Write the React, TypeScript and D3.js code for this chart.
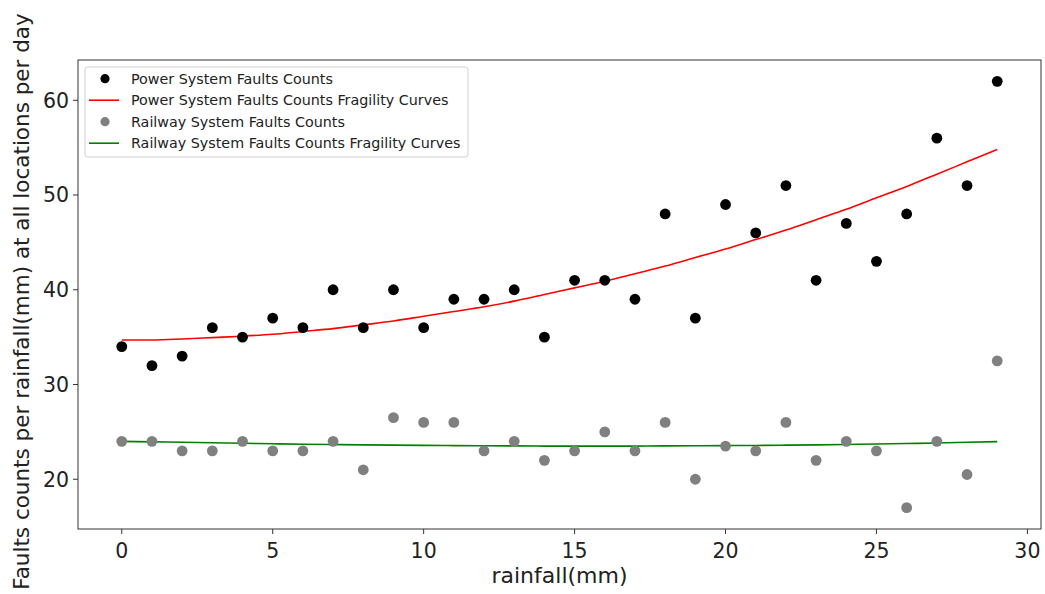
import * as d3 from 'd3';
import React from 'react';

// rainfall (mm) along the x axis
const rainfall = [0, 1, 2, 3, 4, 5, 6, 7, 8, 9, 10, 11, 12, 13, 14, 15, 16, 17, 18, 19, 20, 21, 22, 23, 24, 25, 26, 27, 28, 29];

// observed fault counts
const powerCounts = [34, 32, 33, 36, 35, 37, 36, 40, 36, 40, 36, 39, 39, 40, 35, 41, 41, 39, 48, 37, 49, 46, 51, 41, 47, 43, 48, 56, 51, 62];
const railwayCounts = [24, 24, 23, 23, 24, 23, 23, 24, 21, 26.5, 26, 26, 23, 24, 22, 23, 25, 23, 26, 20, 23.5, 23, 26, 22, 24, 23, 17, 24, 20.5, 32.5];

// fitted fragility curves
const powerCurve = [34.7, 34.7, 34.8, 34.95, 35.1, 35.3, 35.6, 35.9, 36.3, 36.7, 37.2, 37.7, 38.2, 38.8, 39.5, 40.2, 40.9, 41.7, 42.5, 43.4, 44.3, 45.3, 46.3, 47.4, 48.5, 49.7, 50.9, 52.2, 53.5, 54.8];
const railwayCurve = [24.0, 23.95, 23.9, 23.85, 23.8, 23.75, 23.7, 23.67, 23.63, 23.6, 23.58, 23.55, 23.53, 23.52, 23.5, 23.5, 23.5, 23.5, 23.52, 23.53, 23.55, 23.57, 23.6, 23.63, 23.67, 23.72, 23.77, 23.83, 23.9, 23.97];

const xTicks = [0, 5, 10, 15, 20, 25, 30];
const yTicks = [20, 30, 40, 50, 60];

const legendItems = [
  { label: 'Power System Faults Counts', kind: 'dot', color: '#000000' },
  { label: 'Power System Faults Counts Fragility Curves', kind: 'line', color: '#ff0000' },
  { label: 'Railway System Faults Counts', kind: 'dot', color: '#808080' },
  { label: 'Railway System Faults Counts Fragility Curves', kind: 'line', color: '#008000' },
];

export default function App() {
  const width = 1045, height = 594;
  const margin = { top: 60, right: 4, bottom: 65, left: 78 };
  const font = 'DejaVu Sans, sans-serif';

  const x = d3.scaleLinear().domain([-1.45, 30.45]).range([margin.left, width - margin.right]);
  const y = d3.scaleLinear().domain([14.75, 64.25]).range([height - margin.bottom, margin.top]);

  const line = d3.line<number>()
    .x((_, i) => x(rainfall[i]))
    .y(d => y(d))
    .curve(d3.curveMonotoneX);

  const x0 = margin.left, x1 = width - margin.right;
  const y0 = height - margin.bottom, y1 = margin.top;

  return (
    <svg width={width} height={height} style={{ position: 'absolute', left: 0, top: 0 }} fontFamily={font}>
      <rect width={width} height={height} fill="#fff" />

      {/* fitted curves */}
      <path d={line(powerCurve) || ''} fill="none" stroke="#ff0000" strokeWidth={1.6} />
      <path d={line(railwayCurve) || ''} fill="none" stroke="#008000" strokeWidth={1.6} />

      {/* scatter points */}
      {powerCounts.map((v, i) => (
        <circle key={'p' + i} cx={x(rainfall[i])} cy={y(v)} r={5.4} fill="#000" />
      ))}
      {railwayCounts.map((v, i) => (
        <circle key={'r' + i} cx={x(rainfall[i])} cy={y(v)} r={5.4} fill="#808080" />
      ))}

      {/* frame */}
      <rect x={x0} y={y1} width={x1 - x0} height={y0 - y1} fill="none" stroke="#333" strokeWidth={1} />

      {/* x axis */}
      {xTicks.map(t => (
        <g key={'xt' + t} transform={`translate(${x(t)},${y0})`}>
          <line y2={5} stroke="#333" />
          <text y={29} textAnchor="middle" fontSize={20.5} fill="#222">{t}</text>
        </g>
      ))}
      <text x={(x0 + x1) / 2} y={583} textAnchor="middle" fontSize={22} fill="#222">rainfall(mm)</text>

      {/* y axis */}
      {yTicks.map(t => (
        <g key={'yt' + t} transform={`translate(${x0},${y(t)})`}>
          <line x2={-5} stroke="#333" />
          <text x={-9} dy="0.36em" textAnchor="end" fontSize={20.5} fill="#222">{t}</text>
        </g>
      ))}
      <text transform={`translate(29,${(y0 + y1) / 2 + 7}) rotate(-90)`} textAnchor="middle" fontSize={21.5} fill="#222">
        Faults counts per rainfall(mm) at all locations per day
      </text>

      {/* legend */}
      <g transform="translate(85,67)">
        <rect width={383} height={90} rx={3} fill="#fff" fillOpacity={0.8} stroke="#d0d0d0" />
        {legendItems.map((d, i) => (
          <g key={d.label} transform={`translate(0,${11.7 + i * 21.5})`}>
            {d.kind === 'dot'
              ? <circle cx={20} cy={0} r={4.6} fill={d.color} />
              : <line x1={4} x2={34} stroke={d.color} strokeWidth={1.6} />}
            <text x={46} dy="0.35em" fontSize={14.3} fill="#222">{d.label}</text>
          </g>
        ))}
      </g>
    </svg>
  );
}
